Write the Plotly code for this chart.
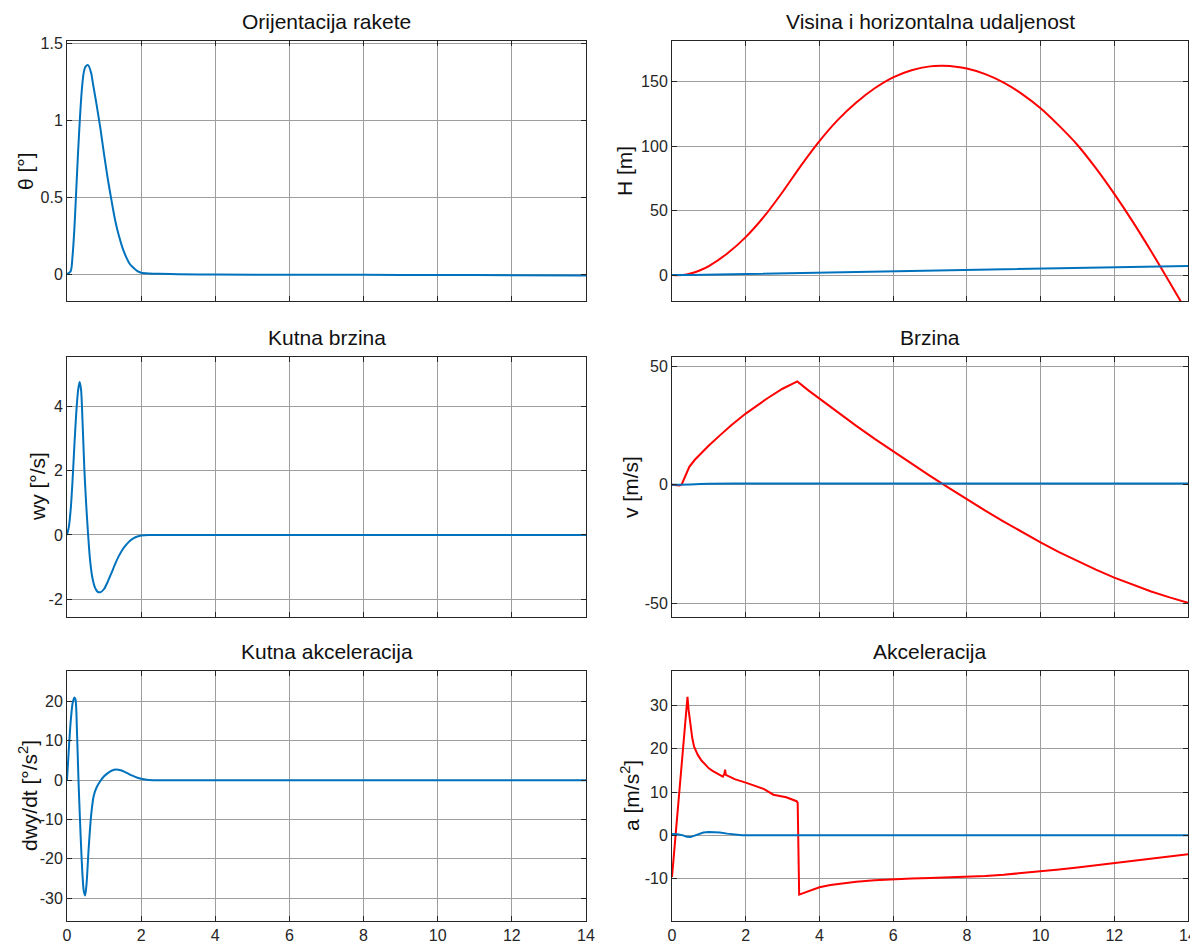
import plotly.graph_objects as go
from plotly.subplots import make_subplots

# the page body adds an 8px margin, so the figure is 8px smaller and
# every reference pixel position is shifted by OFF
OFF = 8
W, H = 1198 - OFF, 945 - OFF
blue = '#0072BD'
red = '#FF0000'
axcol = '#262626'
gridcol = '#9e9e9e'
fnt = 'Liberation Sans, Arial, Helvetica, sans-serif'

# --- Orijentacija rakete (theta) ---
t_theta = [0, 0.1, 0.15, 0.2, 0.25, 0.3, 0.35, 0.4, 0.45, 0.5, 0.57, 0.65, 0.7, 0.8, 0.9, 1.0,
           1.1, 1.2, 1.3, 1.4, 1.5, 1.6, 1.7, 1.8, 1.9, 2.0, 2.2, 2.5, 3, 4, 6, 8, 10, 12, 14]
theta = [0, 0.02, 0.12, 0.30, 0.55, 0.80, 1.02, 1.20, 1.31, 1.35, 1.36, 1.31, 1.24, 1.10, 0.95, 0.78,
         0.62, 0.48, 0.35, 0.25, 0.17, 0.11, 0.065, 0.04, 0.02, 0.01, 0.005, 0.003, 0.0, -0.002,
         -0.003, -0.004, -0.005, -0.006, -0.008]

# --- Visina i horizontalna udaljenost ---
t_h = [0, 0.3, 0.5, 0.75, 1.0, 1.5, 2.0, 2.5, 3.0, 3.5, 4.0, 4.5, 5.0, 5.5, 6.0, 6.5, 7.0, 7.35,
       7.7, 8.0, 8.5, 9.0, 9.5, 10.0, 10.5, 11.0, 11.5, 12.0, 12.5, 13.0, 13.5, 14.0]
visina = [0, 0.1, 1.2, 3.6, 7, 16.8, 29.5, 45.5, 64.5, 85, 104, 120.5, 134, 145, 153.5, 159, 162,
          162.4, 161.8, 160.3, 156, 149.4, 140.5, 129.5, 116, 101, 83, 63, 41.5, 18.5, -5.5, -30]
t_x = [0, 0.5, 2, 4, 6, 8, 10, 12, 14]
udaljenost = [0, 0.05, 0.8, 1.9, 3.0, 4.0, 5.1, 6.1, 7.1]

# --- Kutna brzina ---
t_wy = [0, 0.05, 0.1, 0.15, 0.2, 0.25, 0.3, 0.34, 0.38, 0.42, 0.47, 0.52, 0.57, 0.62, 0.68, 0.75,
        0.82, 0.9, 1.0, 1.1, 1.2, 1.3, 1.4, 1.5, 1.6, 1.7, 1.8, 1.9, 2.0, 2.2, 2.5, 3, 14]
wy = [0, 0.25, 0.8, 1.7, 2.8, 3.8, 4.5, 4.75, 4.5, 3.5, 2.0, 0.9, 0.0, -0.75, -1.3, -1.62,
      -1.76, -1.78, -1.68, -1.45, -1.18, -0.9, -0.65, -0.45, -0.3, -0.18, -0.1, -0.05, -0.02,
      0.0, 0.0, 0.0, 0.0]

# --- Brzina ---
t_v = [0, 0.1, 0.2, 0.26, 0.35, 0.47, 0.62, 0.8, 1.0, 1.3, 1.6, 2.0, 2.3, 2.6, 3.0, 3.4, 3.7,
       4.0, 4.5, 5.0, 5.5, 6.0, 6.5, 7.0, 7.5, 8.0, 8.5, 9.0, 9.5, 10.0, 10.5, 11.0, 11.5,
       12.0, 12.5, 13.0, 13.5, 14.0]
v_vert = [0, -0.3, -0.4, 0, 3.5, 7.5, 10.5, 13.5, 16.5, 20.8, 25.0, 30.0, 33.4, 36.6, 40.5, 43.6,
          39.8, 36.3, 30.4, 24.8, 19.3, 14.0, 8.8, 3.7, -1.3, -6.2, -11.0, -15.6, -20.1, -24.4,
          -28.5, -32.3, -35.9, -39.3, -42.3, -45.1, -47.6, -49.9]
t_vh = [0, 0.5, 1, 2, 14]
v_hor = [0, 0.1, 0.35, 0.5, 0.5]

# --- Kutna akceleracija ---
t_dwy = [0, 0.05, 0.1, 0.15, 0.2, 0.23, 0.27, 0.31, 0.35, 0.4, 0.45, 0.49, 0.53, 0.58, 0.65,
         0.72, 0.8, 0.9, 1.0, 1.1, 1.2, 1.33, 1.45, 1.6, 1.75, 1.9, 2.0, 2.2, 2.5, 14]
dwy = [0, 8, 15, 19.5, 21, 20.5, 12, 0, -10, -21, -28, -29.3, -26, -18, -9, -4, -1.8, -0.2,
       1.0, 1.8, 2.4, 2.7, 2.5, 1.9, 1.2, 0.6, 0.35, 0.05, 0, 0]

# --- Akceleracija ---
t_a = [0, 0.42, 0.45, 0.5, 0.55, 0.6, 0.7, 0.8, 0.9, 1.0, 1.1, 1.2, 1.3, 1.38, 1.42, 1.44, 1.46,
       1.5, 1.7, 2.0, 2.3, 2.5, 2.75, 2.9, 3.1, 3.38, 3.41, 3.45, 3.6, 3.8, 4.0, 4.3, 4.6, 5.0,
       5.5, 6.0, 6.5, 7.0, 7.5, 8.0, 8.5, 9.0, 9.5, 10.0, 10.5, 11.0, 11.5, 12.0, 12.5, 13.0,
       13.5, 14.0]
a_vert = [-9.6, 32, 29, 25.5, 22.5, 20.5, 18.6, 17.3, 16.3, 15.5, 14.9, 14.4, 14.0, 13.6, 14.2,
          15.2, 14.0, 13.8, 13.0, 12.2, 11.3, 10.7, 9.4, 9.2, 8.8, 7.9, 7.5, -13.7, -13.2, -12.5,
          -12.0, -11.5, -11.1, -10.7, -10.35, -10.1, -9.95, -9.85, -9.75, -9.6, -9.4, -9.1,
          -8.75, -8.35, -7.9, -7.45, -6.95, -6.45, -5.9, -5.35, -4.85, -4.35]
t_ah = [0, 0.15, 0.3, 0.4, 0.5, 0.6, 0.7, 0.85, 1.0, 1.15, 1.3, 1.5, 1.7, 1.9, 2.1, 14]
a_hor = [0.3, 0.25, 0.0, -0.35, -0.4, -0.1, 0.3, 0.65, 0.8, 0.8, 0.65, 0.4, 0.2, 0.05, 0, 0]

x_ticks = [0, 2, 4, 6, 8, 10, 12, 14]

fig = make_subplots(rows=3, cols=2)

def line(x, y, c, r, col, shape='linear'):
    ln = dict(color=c, width=2, shape=shape)
    if shape == 'spline':
        ln['smoothing'] = 0.7
    fig.add_trace(go.Scatter(x=x, y=y, mode='lines', line=ln, showlegend=False), row=r, col=col)

line(t_theta, theta, blue, 1, 1, 'spline')
line(t_h, visina, red, 1, 2, 'spline')
line(t_x, udaljenost, blue, 1, 2)
line(t_wy, wy, blue, 2, 1, 'spline')
line(t_v, v_vert, red, 2, 2)
line(t_vh, v_hor, blue, 2, 2, 'spline')
line(t_dwy, dwy, blue, 3, 1, 'spline')
line(t_a, a_vert, red, 3, 2)
line(t_ah, a_hor, blue, 3, 2)

def px(x):
    return (x - OFF) / W

def py(y):
    return 1 - (y - OFF) / H

xl = [px(67), px(586)]
xr = [px(672), px(1188)]
rows_y = [[py(301), py(41)], [py(617), py(357)], [py(921), py(671)]]

panels = [
    (1, 1, [-0.174, 1.517], [0, 0.5, 1, 1.5], ['0', '0.5', '1', '1.5'], 'θ [°]', 'Orijentacija rakete', 25),
    (1, 2, [-20.1, 181.7], [0, 50, 100, 150], ['0', '50', '100', '150'], 'H [m]', 'Visina i horizontalna udaljenost', 624),
    (2, 1, [-2.55, 5.53], [-2, 0, 2, 4], ['-2', '0', '2', '4'], 'wy [°/s]', 'Kutna brzina', 37),
    (2, 2, [-55.9, 53.9], [-50, 0, 50], ['-50', '0', '50'], 'v [m/s]', 'Brzina', 630),
    (3, 1, [-35.8, 27.75], [-30, -20, -10, 0, 10, 20], ['-30', '-20', '-10', '0', '10', '20'],
     'dwy/dt [°/s<sup>2</sup>]', 'Kutna akceleracija', 28),
    (3, 2, [-19.8, 38.0], [-10, 0, 10, 20, 30], ['-10', '0', '10', '20', '30'],
     'a [m/s<sup>2</sup>]', 'Akceleracija', 630),
]

annots = []
for r, c, yr, yt, ytt, ylab, title, labx in panels:
    xd = xl if c == 1 else xr
    yd = rows_y[r - 1]
    fig.update_xaxes(domain=xd, range=[0, 14], tickvals=x_ticks, ticktext=[str(v) for v in x_ticks],
                     showticklabels=(r == 3), row=r, col=c)
    fig.update_yaxes(domain=yd, range=yr, tickvals=yt, ticktext=ytt, row=r, col=c)
    annots.append(dict(x=(xd[0] + xd[1]) / 2, y=yd[1], xref='paper', yref='paper',
                       text=title, showarrow=False, xanchor='center', yanchor='bottom', yshift=6,
                       font=dict(size=21, color='#111111', family=fnt)))
    annots.append(dict(x=px(labx), y=(yd[0] + yd[1]) / 2, xref='paper', yref='paper',
                       text=ylab, textangle=-90, showarrow=False, xanchor='center', yanchor='middle',
                       font=dict(size=21, color='#111111', family=fnt)))

fig.update_xaxes(showline=True, linecolor=axcol, linewidth=1, mirror='ticks', ticks='inside',
                 ticklen=5, tickcolor=axcol, showgrid=True, gridcolor=gridcol, gridwidth=1,
                 zeroline=False, automargin=False, tickfont=dict(size=16, color=axcol, family=fnt))
fig.update_yaxes(showline=True, linecolor=axcol, linewidth=1, mirror='ticks', ticks='inside',
                 ticklen=5, tickcolor=axcol, showgrid=True, gridcolor=gridcol, gridwidth=1,
                 zeroline=False, automargin=False, tickfont=dict(size=16, color=axcol, family=fnt))

fig.update_layout(width=W, height=H, margin=dict(l=0, r=0, t=0, b=0),
                  paper_bgcolor='white', plot_bgcolor='white', annotations=annots,
                  font=dict(family=fnt))

fig.write_html("out.html")
